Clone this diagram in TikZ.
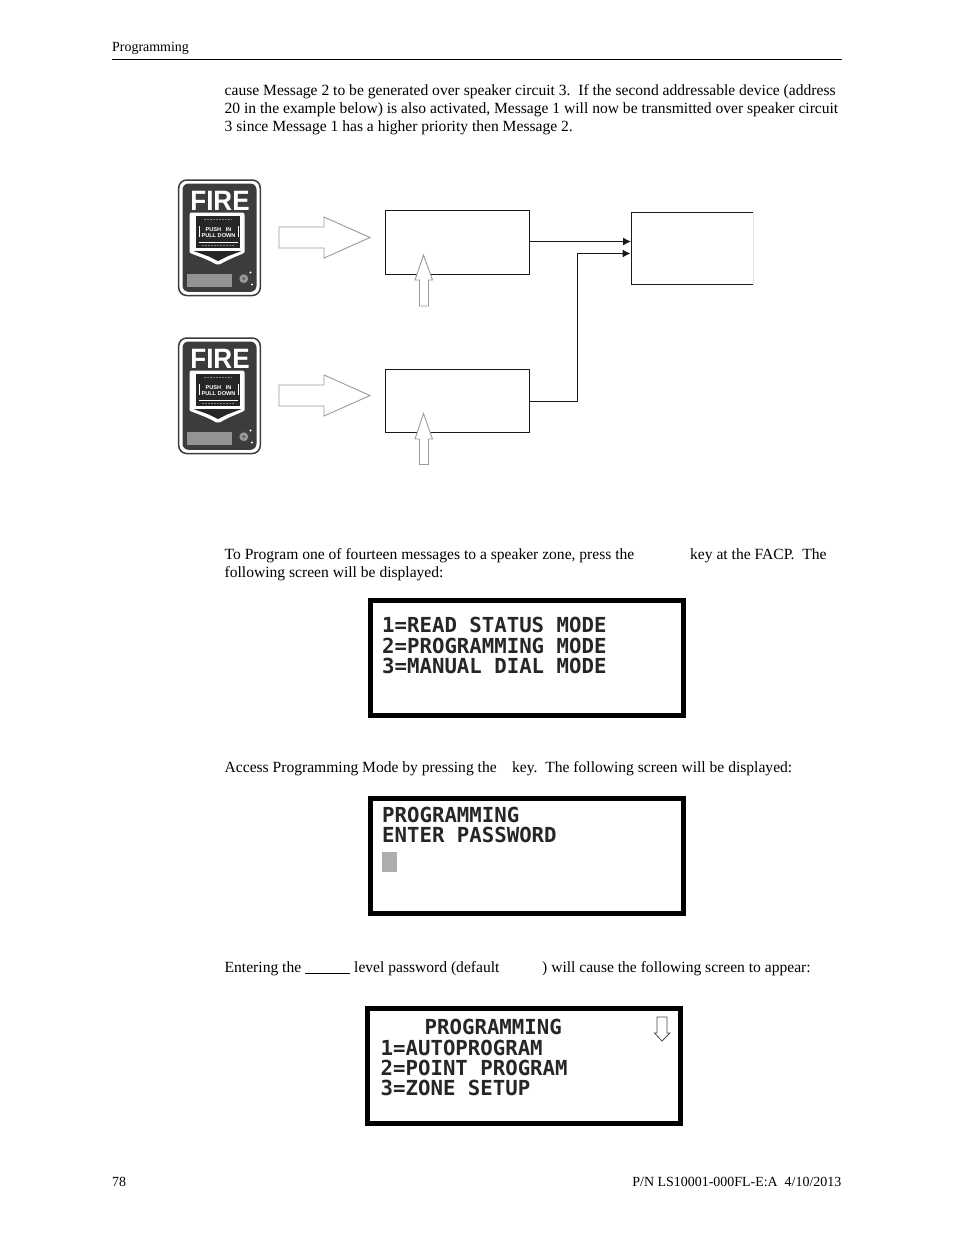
\documentclass[tikz,border=0pt]{standalone}
\usepackage{fontspec}
\setmainfont{Liberation Serif}
\newfontfamily\lcdfont{DejaVu Sans Mono}
\newfontfamily\firefont{Liberation Sans}[BoldFont={Liberation Sans Bold}]
\usetikzlibrary{arrows.meta,patterns}
\frenchspacing
\definecolor{pulldark}{HTML}{3C3C3C}
\definecolor{hollow}{HTML}{9A9A9A}
\tikzset{
  x=1pt,y=-1pt,
  bodytext/.style={anchor=base west,inner sep=0pt,font=\fontsize{15.57}{18}\selectfont},
  bodyright/.style={anchor=base east,inner sep=0pt,font=\fontsize{13.95}{16}\selectfont},
  smalltext/.style={anchor=base west,inner sep=0pt,font=\fontsize{13.95}{16}\selectfont},
  lcdtext/.style={anchor=base west,inner sep=0pt,font=\lcdfont\bfseries\fontsize{20.7}{24}\selectfont,text=black!85},
  lcdframe/.style={draw=black,line width=4.6pt,fill=white},
  flowbox/.style={draw=black!90,line width=1pt,fill=white,inner sep=0pt},
  flowline/.style={draw=black!90,line width=1pt,-{Latex[length=8pt,width=8pt]}},
  hollowarrow/.style={draw=hollow,line width=.9pt,fill=white,line join=miter},
}
\newcommand{\pullstation}[2]{%
 \begin{scope}[shift={(0,#1)}]
  \draw[pulldark,line width=1.5pt,fill=white,rounded corners=8pt] (178.7,180) rectangle (260.3,295.5);
  \fill[pulldark,rounded corners=6pt] (182.5,183.5) rectangle (256.5,291.8);
  \node[inner sep=0pt,anchor=base,text=white,xscale=.93,font=\firefont\bfseries\fontsize{28}{30}\selectfont] (#2fire) at (220,210.5) {FIRE};
  \fill[white,rounded corners=2pt] (189.5,212.5) -- (244.5,212.5) -- (244.5,250) .. controls (244.5,254) and (232,257) .. (218,265.5) .. controls (204,257) and (189.5,254) .. (189.5,250) -- cycle;
  \fill[black!85] (196,215.5) rectangle (239.5,248);
  \fill[black!85] (193.5,251) -- (241.5,251) -- (227,256.5) -- (218,261) -- (209,256.5) -- cycle;
  \draw[white,line width=.7pt] (199,226) -- (199,237);
  \draw[white,line width=.7pt] (238,226) -- (238,237);
  \draw[white,line width=.8pt] (199,242) -- (238,242);
  \draw[gray,line width=1.2pt,dash pattern=on 2pt off 1pt] (204,219.5) -- (232,219.5);
  \draw[gray,line width=1.2pt,dash pattern=on 2pt off 1pt] (202,245.5) -- (234,245.5);
  \node[inner sep=0pt,anchor=base,text=white,font=\firefont\bfseries\fontsize{5.6}{6}\selectfont] (#2push) at (218.5,231) {PUSH\ \ \ IN};
  \node[inner sep=0pt,anchor=base,text=white,font=\firefont\bfseries\fontsize{5.6}{6}\selectfont] (#2pull) at (218.5,237.2) {PULL DOWN};
  \fill[gray!85] (187,274) rectangle (232,287);
  \fill[black!75] (244.3,278.7) circle (7pt);
  \fill[gray!80] (243.8,278.7) circle (4.4pt);
  \fill[black!60] (243.8,278.7) circle (1.8pt);
  \fill[white] (250.5,272.5) circle (1.2pt) (252,284.5) circle (1.2pt);
 \end{scope}}
\begin{document}
\begin{tikzpicture}
\useasboundingbox (0,0) rectangle (954,1235);
\fill[white] (0,0) rectangle (954,1235);
% header / footer
\node[smalltext] (hdr) at (112,51) {Programming};
\draw[black,line width=.9pt] (112,59.5) -- (842,59.5);
\node[smalltext] (pg) at (112,1186) {78};
\node[bodyright] (pn) at (841.5,1186) {P/N LS10001-000FL-E:A\ \ 4/10/2013};
% intro
\node[bodytext] (t1) at (224.5,95) {cause Message 2 to be generated over speaker circuit 3.\ \ If the second addressable device (address};
\node[bodytext] (t2) at (224.5,113) {20 in the example below) is also activated, Message 1 will now be transmitted over speaker circuit};
\node[bodytext] (t3) at (224.5,131) {3 since Message 1 has a higher priority then Message 2.};
% pull stations
\pullstation{0}{a}
\pullstation{158}{b}
% side hollow arrows
\draw[hollowarrow] (279,227) -- (324,227) -- (324,217) -- (370,237.5) -- (324,258) -- (324,248) -- (279,248) -- cycle;
\draw[hollowarrow] (279,385) -- (324,385) -- (324,375) -- (370,395.5) -- (324,416) -- (324,406) -- (279,406) -- cycle;
% boxes
\node[flowbox,minimum width=144pt,minimum height=64pt] (A) at (457.5,242.5) {};
\node[flowbox,minimum width=144pt,minimum height=63pt] (B) at (457.5,401) {};
\node[inner sep=0pt,minimum width=122pt,minimum height=72pt] (C) at (692.5,248.5) {};
\draw[black!90,line width=1pt] (C.north east) -- (C.north west) -- (C.south west) -- (C.south east);
\draw[black!12,line width=1pt] (C.north east) -- (C.south east);
\coordinate (Cin1) at (631,241.5);
\coordinate (Cin2) at (630.5,253.5);
\coordinate (Bup) at (577.5,253.5);
\draw[flowline] (A.east |- Cin1) -- (Cin1);
\draw[flowline] (B.east) -| (Bup) -- (Cin2);
% up hollow arrows
\draw[hollowarrow] (419.5,306) -- (419.5,280) -- (415,280) -- (423.5,255) -- (432.5,280) -- (428.5,280) -- (428.5,306) -- cycle;
\draw[hollowarrow] (419.5,464.5) -- (419.5,439) -- (415,439) -- (423.5,413.5) -- (432.5,439) -- (428.5,439) -- (428.5,464.5) -- cycle;
% paragraph 2
\node[bodytext] (t4a) at (224.5,559) {To Program one of fourteen messages to a speaker zone, press the};
\node[bodytext] (t4b) at (690,559) {key at the FACP.\ \ The};
\node[bodytext] (t5) at (224.5,577) {following screen will be displayed:};
% LCD 1
\draw[lcdframe] (370.3,600.3) rectangle (683.7,715.7);
\node[lcdtext] (l11) at (382,632) {1=READ STATUS MODE};
\node[lcdtext] (l12) at (382,653) {2=PROGRAMMING MODE};
\node[lcdtext] (l13) at (382,673) {3=MANUAL DIAL MODE};
% paragraph 3
\node[bodytext] (t6a) at (224.5,772) {Access Programming Mode by pressing the};
\node[bodytext] (t6b) at (512,772) {key.\ \ The following screen will be displayed:};
% LCD 2
\draw[lcdframe] (370.3,798.3) rectangle (683.7,913.7);
\node[lcdtext] (l21) at (382,822) {PROGRAMMING};
\node[lcdtext] (l22) at (382,842) {ENTER PASSWORD};
\fill[black!32] (382,852) rectangle (397,872);
% paragraph 4
\node[bodytext] (t7a) at (224.5,972) {Entering the};
\draw[black,line width=1.6pt] (305,973.5) -- (350,973.5);
\node[bodytext] (t7b) at (354,972) {level password (default};
\node[bodytext] (t7c) at (542,972) {) will cause the following screen to appear:};
% LCD 3
\draw[lcdframe] (367.3,1008.3) rectangle (680.7,1123.7);
\node[lcdtext] (l30) at (424.5,1034) {PROGRAMMING};
\node[lcdtext] (l31) at (380.5,1055) {1=AUTOPROGRAM};
\node[lcdtext] (l32) at (380.5,1075) {2=POINT PROGRAM};
\node[lcdtext] (l33) at (380.5,1095) {3=ZONE SETUP};
\draw[draw=black!70,line width=.8pt,fill=white] (657,1017) -- (667,1017) -- (667,1033) -- (670,1033) -- (662,1041) -- (654.5,1033) -- (657,1033) -- cycle;
\end{tikzpicture}
\end{document}
